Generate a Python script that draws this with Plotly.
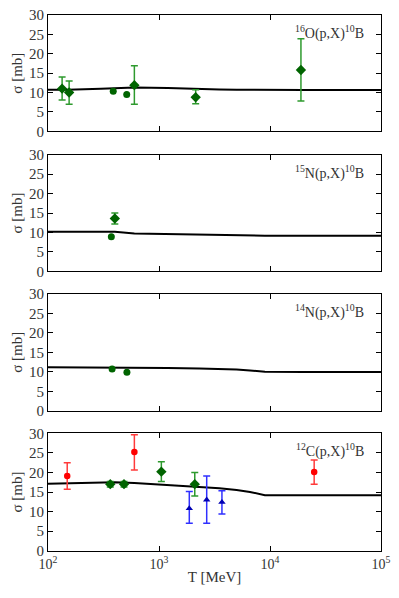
import plotly.graph_objects as go

# ---------------- data ----------------
# Theory curves (T in MeV, sigma in mb)
theory_T = [100, 150, 300, 400, 600, 1200, 2300, 3500, 5000, 6600, 9000, 20000, 100000]
O16_theory = [10.75, 10.75, 11.0, 11.15, 11.3, 11.2, 10.9, 10.8, 10.75, 10.7, 10.65, 10.65, 10.65]
N15_theory = [10.2, 10.2, 10.2, 10.15, 9.75, 9.55, 9.4, 9.3, 9.2, 9.17, 9.16, 9.16, 9.16]
N14_theory = [11.15, 11.15, 11.15, 11.15, 11.1, 11.0, 10.85, 10.75, 10.6, 10.35, 10.0, 9.95, 9.95]
C12_theory = [17.1, 17.2, 17.45, 17.5, 17.3, 16.8, 16.4, 15.95, 15.5, 15.0, 14.2, 14.2, 14.2]

# 16O(p,X)10B
O16_dia_T = [134, 155, 600, 2140, 19000]
O16_dia_s = [11.0, 10.0, 11.9, 8.8, 15.8]
O16_dia_ep = [3.0, 3.0, 5.0, 1.9, 8.1]
O16_dia_em = [2.9, 3.0, 4.9, 1.7, 8.0]
O16_cir_T = [387, 512]
O16_cir_s = [10.3, 9.5]

# 15N(p,X)10B
N15_dia_T = [400]
N15_dia_s = [13.6]
N15_dia_e = [1.4]
N15_cir_T = [372]
N15_cir_s = [8.9]

# 14N(p,X)10B
N14_cir_T = [378, 514]
N14_cir_s = [10.7, 9.9]

# 12C(p,X)10B
C12_red_T = [149, 600, 25000]
C12_red_s = [19.1, 25.2, 20.1]
C12_red_ep = [3.4, 4.4, 3.1]
C12_red_em = [3.4, 4.6, 3.1]
C12_grn_T = [364, 484, 1050, 2100]
C12_grn_s = [17.0, 17.0, 20.2, 17.0]
C12_grn_e = [0.7, 0.7, 2.5, 3.0]
C12_blu_T = [1875, 2690, 3690]
C12_blu_s = [10.8, 13.0, 12.4]
C12_blu_ep = [4.3, 6.1, 2.9]
C12_blu_em = [3.8, 6.0, 3.0]

panel_labels = ["<sup>16</sup>O(p,X)<sup>10</sup>B", "<sup>15</sup>N(p,X)<sup>10</sup>B",
                "<sup>14</sup>N(p,X)<sup>10</sup>B", "<sup>12</sup>C(p,X)<sup>10</sup>B"]
y_ticks = [0, 5, 10, 15, 20, 25, 30]
x_tickvals = [100, 1000, 10000, 100000]
x_ticktext = ["10<sup>2</sup>", "10<sup>3</sup>", "10<sup>4</sup>", "10<sup>5</sup>"]

# ---------------- style ----------------
FONT = "Liberation Serif"
W, H = 399, 598
ML, MR, MT, MB = 48, 18, 15, 47
panel_px = [(15.0, 131.3), (154.7, 271.3), (294.0, 410.7), (433.3, 550.7)]
plot_h = H - MT - MB
TXT = "#333333"

DKGREEN = "#006400"
GREEN_BAR = "#2e9a2e"
RED = "#ff0000"
RED_BAR = "#ff3b3b"
BLUE = "#0000b4"
BLUE_BAR = "#3030ff"

fig = go.Figure()


def ref(i, kind):
    return kind if i == 0 else f"{kind}{i+1}"


def add_theory(i, ys):
    fig.add_trace(go.Scatter(x=theory_T, y=ys, mode="lines", line=dict(color="black", width=2),
                             xaxis=ref(i, "x"), yaxis=ref(i, "y"), showlegend=False, hoverinfo="skip"))


def add_pts(i, xs, ys, symbol, color, size, ep=None, em=None, barcolor=None):
    kw = {}
    if ep is not None:
        kw["error_y"] = dict(type="data", symmetric=False, array=ep, arrayminus=em if em is not None else ep,
                             color=barcolor, thickness=1.5, width=3.5)
    fig.add_trace(go.Scatter(x=xs, y=ys, mode="markers",
                             marker=dict(symbol=symbol, color=color, size=size, line=dict(width=0)),
                             xaxis=ref(i, "x"), yaxis=ref(i, "y"), showlegend=False, **kw))


theories = [O16_theory, N15_theory, N14_theory, C12_theory]
for i, th in enumerate(theories):
    add_theory(i, th)

# panel 1
add_pts(0, O16_dia_T, O16_dia_s, "diamond", DKGREEN, 8, O16_dia_ep, O16_dia_em, GREEN_BAR)
add_pts(0, O16_cir_T, O16_cir_s, "circle", DKGREEN, 7)
# panel 2
add_pts(1, N15_dia_T, N15_dia_s, "diamond", DKGREEN, 8, N15_dia_e, N15_dia_e, GREEN_BAR)
add_pts(1, N15_cir_T, N15_cir_s, "circle", DKGREEN, 7)
# panel 3
add_pts(2, N14_cir_T, N14_cir_s, "circle", DKGREEN, 7)
# panel 4
add_pts(3, C12_red_T, C12_red_s, "circle", RED, 6.5, C12_red_ep, C12_red_em, RED_BAR)
add_pts(3, C12_grn_T, C12_grn_s, "diamond", DKGREEN, 8, C12_grn_e, C12_grn_e, GREEN_BAR)
add_pts(3, C12_blu_T, C12_blu_s, "triangle-up", BLUE, 6.5, C12_blu_ep, C12_blu_em, BLUE_BAR)

layout = dict(width=W, height=H, margin=dict(l=ML, r=MR, t=MT, b=MB, autoexpand=False),
              plot_bgcolor="white", paper_bgcolor="white",
              font=dict(family=FONT, size=15, color=TXT), showlegend=False)

for i, (top, bot) in enumerate(panel_px):
    d0 = (H - MB - bot) / plot_h
    d1 = (H - MB - top) / plot_h
    xa = dict(type="log", range=[2, 5], domain=[0, 1], anchor=ref(i, "y"),
              showline=True, linecolor="black", linewidth=1.2, mirror="allticks",
              ticks="inside", ticklen=5, tickcolor="black", tickwidth=1,
              showgrid=False, zeroline=False,
              tickvals=x_tickvals, ticktext=x_ticktext,
              showticklabels=(i == 3), tickfont=dict(family=FONT, size=14, color=TXT))
    if i > 0:
        xa["matches"] = "x"
    if i == 3:
        xa["title"] = dict(text="T [MeV]", font=dict(family=FONT, size=15, color=TXT), standoff=0)
    ya = dict(range=[0, 30], domain=[max(0, d0), min(1, d1)], anchor=ref(i, "x"),
              showline=True, linecolor="black", linewidth=1.2, mirror="allticks",
              ticks="inside", ticklen=5, tickcolor="black", tickwidth=1,
              showgrid=False, zeroline=False, tickvals=y_ticks,
              tickfont=dict(family=FONT, size=15, color=TXT),
              title=dict(text="σ [mb]", font=dict(family=FONT, size=15, color=TXT), standoff=2))
    layout[ref(i, "xaxis")] = xa
    layout[ref(i, "yaxis")] = ya

fig.update_layout(**layout)

for i, lab in enumerate(panel_labels):
    fig.add_annotation(text=lab, xref=f"{ref(i, 'x')} domain", yref=f"{ref(i, 'y')} domain",
                       x=0.955, y=0.85, xanchor="right", yanchor="middle", showarrow=False,
                       font=dict(family=FONT, size=14, color=TXT))

fig.write_html("out.html", config={"displayModeBar": False},
               post_script="document.body.style.margin='0px';document.body.style.overflow='hidden';")
